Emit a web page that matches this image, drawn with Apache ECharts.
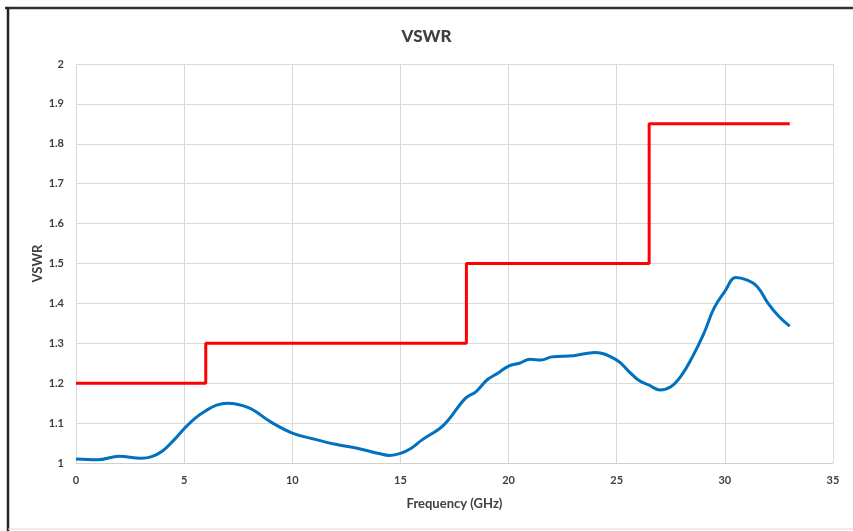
<!DOCTYPE html>
<html>
<head>
<meta charset="utf-8">
<script src="https://cdn.jsdelivr.net/npm/echarts@6/dist/echarts.min.js"></script>
<style>
html,body{margin:0;padding:0;background:#fff;}
#chart{width:853px;height:531px;}
</style>
</head>
<body>
<div id="chart"></div>
<script>
// Measured VSWR (blue)
var freq = [0, 1, 2, 3, 3.5, 4, 4.5, 5, 5.5, 6, 6.5, 7, 8, 9, 10, 11, 12, 13, 14, 14.5, 15, 15.5, 16, 17, 18, 18.5, 19, 19.5, 20, 20.5, 21, 21.5, 22, 23, 24, 25, 25.5, 26, 26.5, 27, 27.5, 28, 28.5, 29, 29.5, 30, 30.5, 31, 31.5, 32, 32.5, 33];
var vswr = [1.010, 1.008, 1.017, 1.012, 1.016, 1.030, 1.056, 1.086, 1.112, 1.131, 1.145, 1.150, 1.138, 1.103, 1.075, 1.060, 1.047, 1.037, 1.024, 1.019, 1.024, 1.037, 1.058, 1.095, 1.162, 1.179, 1.208, 1.225, 1.243, 1.250, 1.260, 1.258, 1.266, 1.269, 1.277, 1.258, 1.233, 1.208, 1.195, 1.183, 1.191, 1.220, 1.266, 1.321, 1.388, 1.430, 1.465, 1.459, 1.442, 1.400, 1.367, 1.343];
// Specification limit (red step)
var limitFreq = [0, 6, 6, 18.05, 18.05, 26.5, 26.5, 33];
var limitVal = [1.2, 1.2, 1.3, 1.3, 1.5, 1.5, 1.85, 1.85];

var xTicks = {min: 0, max: 35, interval: 5};
var yTicks = {min: 1, max: 2, interval: 0.1};

var font = 'Lato';
var txt = '#404040';

var chart = echarts.init(document.getElementById('chart'));
chart.setOption({
  backgroundColor: '#fff',
  animation: false,
  title: {
    text: 'VSWR', left: 'center', top: 23,
    textStyle: {fontFamily: font, fontWeight: 900, fontSize: 17, color: txt}
  },
  grid: {left: 76, right: 20, top: 64, bottom: 68, containLabel: false},
  xAxis: {
    type: 'value', min: xTicks.min, max: xTicks.max, interval: xTicks.interval,
    name: 'Frequency (GHz)', nameLocation: 'middle', nameGap: 34, nameMoveOverlap: false,
    nameTextStyle: {fontFamily: font, fontWeight: 'bold', fontSize: 13, color: txt},
    axisLine: {show: true, lineStyle: {color: '#d0d0d0', width: 1}},
    axisTick: {show: false},
    axisLabel: {fontFamily: font, fontWeight: 'bold', fontSize: 11, color: txt, margin: 12},
    splitLine: {show: true, lineStyle: {color: '#d9d9d9', width: 1}}
  },
  yAxis: {
    type: 'value', min: yTicks.min, max: yTicks.max, interval: yTicks.interval,
    name: 'VSWR', nameLocation: 'middle', nameGap: 32, nameRotate: 90, nameMoveOverlap: false,
    nameTextStyle: {fontFamily: font, fontWeight: 'bold', fontSize: 13, color: txt},
    axisLine: {show: false},
    axisTick: {show: false},
    axisLabel: {fontFamily: font, fontWeight: 'bold', fontSize: 11, color: txt, margin: 12},
    splitLine: {show: true, lineStyle: {color: '#d9d9d9', width: 1}}
  },
  graphic: [
    {type: 'line', shape: {x1: 5, y1: 8, x2: 853, y2: 8}, style: {stroke: '#333', lineWidth: 2.5}, z: 100},
    {type: 'line', shape: {x1: 8, y1: 7, x2: 8, y2: 531}, style: {stroke: '#222', lineWidth: 2.5}, z: 100},
    {type: 'line', shape: {x1: 8, y1: 529, x2: 853, y2: 529}, style: {stroke: '#d9d9d9', lineWidth: 1}, z: 100}
  ],
  series: [
    {
      type: 'line', data: limitFreq.map(function(f, i){ return [f, limitVal[i]]; }),
      showSymbol: false, lineStyle: {color: '#ff0000', width: 3}, z: 3
    },
    {
      type: 'line', data: freq.map(function(f, i){ return [f, vswr[i]]; }),
      smooth: 0.4, showSymbol: false, lineStyle: {color: '#0070c0', width: 3}, z: 4
    }
  ]
});
</script>
</body>
</html>
